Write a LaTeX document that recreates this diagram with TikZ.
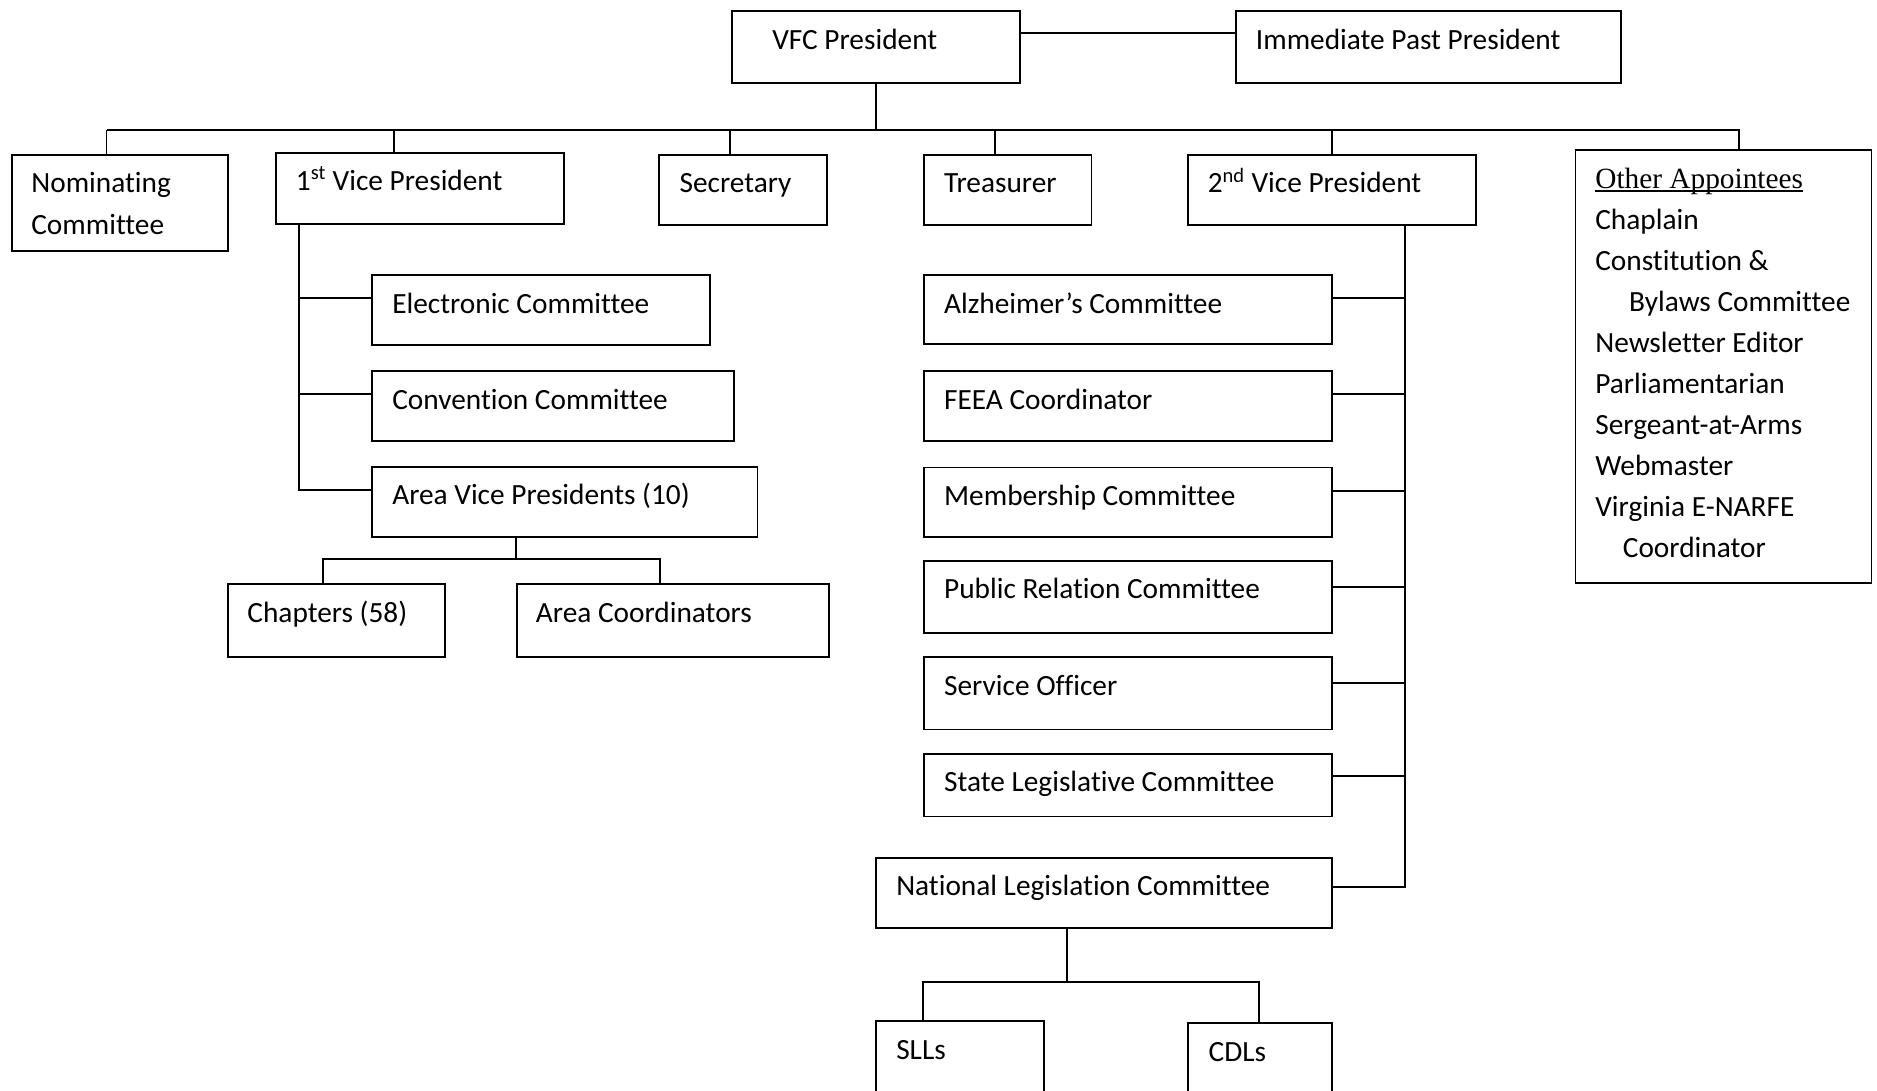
\documentclass[tikz,border=0pt]{standalone}
\usepackage{fontspec}
\setmainfont{Carlito}[Ligatures=NoCommon]
\newfontfamily\tmsfont{Liberation Serif}
\newcommand\myul[1]{\setbox0\hbox{#1}\rlap{\rule[-2.8pt]{\wd0}{1.3pt}}\box0}
\begin{document}
\begin{tikzpicture}[x=1pt,y=-1pt,
  bx/.style={draw, line width=1.6pt, anchor=north west, inner sep=0pt},
  tx/.style={anchor=base west, inner sep=0pt, font=\fontsize{24.5}{34.3}\selectfont},
  ln/.style={line width=1.6pt}]
\useasboundingbox (0,0) rectangle (1568,911);
\clip (0,0) rectangle (1568,911);
% boxes
\node[bx, minimum width=240pt, minimum height=60pt] (vfc) at (611,8.5) {};
\node[bx, minimum width=321.5pt, minimum height=60pt] (ipp) at (1031.5,8.5) {};
\node[bx, minimum width=180pt, minimum height=80.3pt] (nom) at (9.5,128.7) {};
\node[bx, minimum width=240.5pt, minimum height=59.5pt] (vp1) at (229.5,127) {};
\node[bx, minimum width=140pt, minimum height=58.3pt] (sec) at (550,128.7) {};
\node[bx, minimum width=140pt, minimum height=58.3pt] (tre) at (771,128.7) {};
\node[bx, minimum width=240.7pt, minimum height=58.4pt] (vp2) at (991.3,128.7) {};
\node[bx, minimum width=247.3pt, minimum height=361.5pt] (oth) at (1315.3,124.5) {};
\node[bx, minimum width=282pt, minimum height=58.5pt] (ele) at (310,229) {};
\node[bx, minimum width=302pt, minimum height=58.2pt] (con) at (310,309.4) {};
\node[bx, minimum width=322pt, minimum height=58.2pt] (avp) at (310,389.3) {};
\node[bx, minimum width=181pt, minimum height=60.7pt] (cha) at (190,487.3) {};
\node[bx, minimum width=261pt, minimum height=60.7pt] (arc) at (431,487.3) {};
\node[bx, minimum width=341pt, minimum height=57.6pt] (alz) at (771,229.3) {};
\node[bx, minimum width=341pt, minimum height=58.2pt] (fee) at (771,309.4) {};
\node[bx, minimum width=341pt, minimum height=58.3pt] (mem) at (771,389.7) {};
\node[bx, minimum width=341pt, minimum height=60.4pt] (pub) at (771,467.8) {};
\node[bx, minimum width=341pt, minimum height=60.5pt] (ser) at (771,548.1) {};
\node[bx, minimum width=341pt, minimum height=51.9pt] (sta) at (771,629.4) {};
\node[bx, minimum width=381pt, minimum height=58pt] (nat) at (731,716.2) {};
\node[bx, minimum width=140pt, minimum height=80pt] (sll) at (731,852.1) {};
\node[bx, minimum width=120.5pt, minimum height=80pt] (cdl) at (991.5,854) {};
% texts
\node[tx] (vfcT) at ([shift={(34,32.5)}]vfc.north west) {VFC President};
\node[tx] (ippT) at ([shift={(17.5,32.5)}]ipp.north west) {Immediate Past President};
\node[tx] (nomT) at ([shift={(16.5,32.5)}]nom.north west) {\vtop{\hbox{Nominating}\hbox{Committee}}};
\node[tx] (vp1T) at ([shift={(17.5,32)}]vp1.north west) {1\textsuperscript{st} Vice President};
\node[tx] (secT) at ([shift={(17.5,32.5)}]sec.north west) {Secretary};
\node[tx] (treT) at ([shift={(17.5,32.5)}]tre.north west) {Treasurer};
\node[tx] (vp2T) at ([shift={(17.5,32.5)}]vp2.north west) {2\textsuperscript{nd} Vice President};
\node[tx] (othT) at ([shift={(17.2,32.7)}]oth.north west) {\vtop{%
  \hbox{\tmsfont\myul{Other Appointees}}%
  \hbox{Chaplain}%
  \hbox{Constitution \&}%
  \hbox{\hspace{28.3pt}Bylaws Committee}%
  \hbox{Newsletter Editor}%
  \hbox{Parliamentarian}%
  \hbox{Sergeant-at-Arms}%
  \hbox{Webmaster}%
  \hbox{Virginia E-NARFE}%
  \hbox{\hspace{23pt}Coordinator}}};
\node[tx] (eleT) at ([shift={(17.5,32.5)}]ele.north west) {Electronic Committee};
\node[tx] (conT) at ([shift={(17.5,32.5)}]con.north west) {Convention Committee};
\node[tx] (avpT) at ([shift={(17.5,32.5)}]avp.north west) {Area Vice Presidents (10)};
\node[tx] (chaT) at ([shift={(16.5,32.5)}]cha.north west) {Chapters (58)};
\node[tx] (arcT) at ([shift={(16.5,32.5)}]arc.north west) {Area Coordinators};
\node[tx] (alzT) at ([shift={(17.5,32.5)}]alz.north west) {Alzheimer’s Committee};
\node[tx] (feeT) at ([shift={(17.5,32.5)}]fee.north west) {FEEA Coordinator};
\node[tx] (memT) at ([shift={(17.5,32.5)}]mem.north west) {Membership Committee};
\node[tx] (pubT) at ([shift={(17.5,32.5)}]pub.north west) {Public Relation Committee};
\node[tx] (serT) at ([shift={(17.5,32.5)}]ser.north west) {Service Officer};
\node[tx] (staT) at ([shift={(17.5,32)}]sta.north west) {State Legislative Committee};
\node[tx] (natT) at ([shift={(17.5,31.5)}]nat.north west) {National Legislation Committee};
\node[tx] (sllT) at ([shift={(17.5,33)}]sll.north west) {SLLs};
\node[tx] (cdlT) at ([shift={(18,33)}]cdl.north west) {CDLs};
% connectors
\coordinate (tl) at (0,27.8);
\coordinate (busL) at (89,108.6);
\draw[ln] (vfc.east |- tl) -- (ipp.west |- tl);
\draw[ln] (vfc.south) -- (vfc.south |- busL);
\draw[ln] ([xshift=79.5pt]nom.north west) |- (busL);
\draw[ln] ([xshift=100pt]vp1.north west) |- (busL);
\draw[ln] ([xshift=59.5pt]sec.north west) |- (busL);
\draw[ln] ([xshift=60pt]tre.north west) |- (busL);
\draw[ln] (vp2.north) |- (busL);
\draw[ln] ([xshift=137.5pt]oth.north west) |- (busL);
% first vice president branch
\coordinate (lv) at ([xshift=20.5pt]vp1.south west);
\draw[ln] (lv) |- ([yshift=-20pt]avp.north west);
\draw[ln] ([yshift=-20pt]ele.north west) -| (lv);
\draw[ln] ([yshift=-20pt]con.north west) -| (lv);
\coordinate (avb) at (431,467);
\draw[ln] ([xshift=121pt]avp.south west) -- (avb);
\draw[ln] ([xshift=80pt]cha.north west) |- (avb) -| ([xshift=120pt]arc.north west);
% second vice president branch
\coordinate (rv) at ([xshift=-60pt]vp2.south east);
\draw[ln] (rv) |- ([yshift=-24.5pt]nat.north east);
\draw[ln] ([yshift=-20pt]alz.north east) -| (rv);
\draw[ln] ([yshift=-20pt]fee.north east) -| (rv);
\draw[ln] ([yshift=-20.2pt]mem.north east) -| (rv);
\draw[ln] ([yshift=-22.4pt]pub.north east) -| (rv);
\draw[ln] ([yshift=-22.4pt]ser.north east) -| (rv);
\draw[ln] ([yshift=-19.2pt]sta.north east) -| (rv);
\coordinate (nlb) at (891.4,820.1);
\draw[ln] ([xshift=160.4pt]nat.south west) -- (nlb);
\draw[ln] ([xshift=39.8pt]sll.north west) |- (nlb) -| ([xshift=60pt]cdl.north west);
\end{tikzpicture}
\end{document}
